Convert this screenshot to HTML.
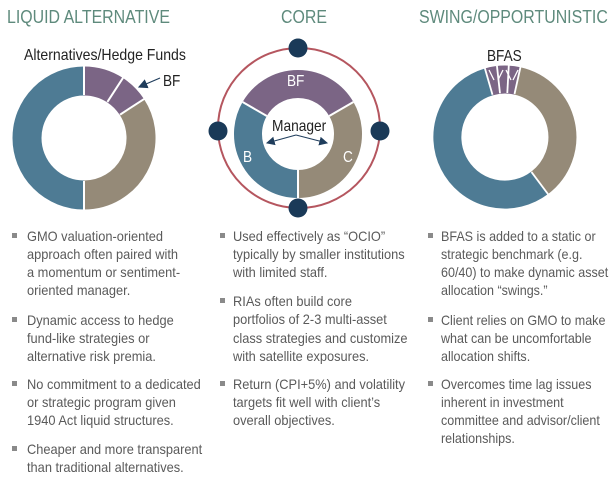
<!DOCTYPE html>
<html><head><meta charset="utf-8"><style>
html,body{margin:0;padding:0;background:#fff}
svg{display:block}
text{font-family:"Liberation Sans",sans-serif}
.t{fill:#5e8a7c;font-size:18.5px}
.b{fill:#5a5a5a;font-size:13.5px}
.bl{fill:#8a8a8a}
</style></head><body>
<svg width="613" height="485" viewBox="0 0 613 485" xmlns="http://www.w3.org/2000/svg">
<defs><marker id="ah" markerWidth="8" markerHeight="8" refX="7" refY="4" orient="auto"><path d="M0,0 L8,4 L0,8 z" fill="#1f3d5c"/></marker></defs>
<text class="t" transform="translate(7,23) scale(0.86,1)">LIQUID ALTERNATIVE</text>
<text class="t" transform="translate(281,23) scale(0.86,1)">CORE</text>
<text class="t" transform="translate(419,23) scale(0.86,1)">SWING/OPPORTUNISTIC</text>

<!-- left donut -->
<g fill="none" stroke-width="29">
<path d="M84,195 A57,57 0 0 1 84,81" stroke="#4e7b94"/>
<path d="M84,81 A57,57 0 0 1 115.1,90.2" stroke="#7b6585"/>
<path d="M115.1,90.2 A57,57 0 0 1 131.8,106.9" stroke="#7b6585"/>
<path d="M131.8,106.9 A57,57 0 0 1 84,195" stroke="#958a78"/>
</g>
<g stroke="#fff" stroke-width="2">
<line x1="84" y1="95" x2="84" y2="65"/><line x1="84" y1="181" x2="84" y2="211"/>
<line x1="107.4" y1="101.9" x2="123.2" y2="77.6"/><line x1="120.1" y1="114.6" x2="144.4" y2="98.8"/>
</g>
<text transform="translate(24,60) scale(0.88,1)" font-size="16" fill="#222">Alternatives/Hedge Funds</text>
<line x1="160" y1="78" x2="139" y2="87" stroke="#1f3d5c" stroke-width="1.2" marker-end="url(#ah)"/>
<text transform="translate(163,86) scale(0.85,1)" font-size="16" fill="#222">BF</text>

<!-- core -->
<ellipse cx="299" cy="128" rx="81" ry="80" fill="none" stroke="#b5565f" stroke-width="2"/>
<g fill="none" stroke-width="28">
<path d="M254.7,109 A50,50 0 0 1 341.3,109" stroke="#7b6585"/>
<path d="M341.3,109 A50,50 0 0 1 298,184" stroke="#958a78"/>
<path d="M298,184 A50,50 0 0 1 254.7,109" stroke="#4e7b94"/>
</g>
<g stroke="#fff" stroke-width="2">
<line x1="329.2" y1="116" x2="353.4" y2="102"/><line x1="266.8" y1="116" x2="242.6" y2="102"/><line x1="298" y1="170" x2="298" y2="198"/>
</g>
<g fill="#1a3a58">
<circle cx="298" cy="48" r="9.5"/><circle cx="298" cy="208" r="9.5"/>
<circle cx="218" cy="131" r="9.5"/><circle cx="380" cy="131" r="9.5"/>
</g>
<text transform="translate(287,86) scale(0.85,1)" font-size="16" fill="#fff">BF</text>
<text transform="translate(243,162) scale(0.85,1)" font-size="16" fill="#fff">B</text>
<text transform="translate(343,162) scale(0.85,1)" font-size="16" fill="#fff">C</text>
<text transform="translate(272,131) scale(0.86,1)" font-size="16" fill="#222">Manager</text>
<line x1="296" y1="135" x2="267" y2="143" stroke="#1f3d5c" stroke-width="1.1" marker-end="url(#ah)"/>
<line x1="296" y1="135" x2="327" y2="143" stroke="#1f3d5c" stroke-width="1.1" marker-end="url(#ah)"/>

<!-- right donut -->
<g fill="none" stroke-width="28">
<path d="M539.6,182.9 A57.5,57.5 0 1 1 488.7,81.9" stroke="#4e7b94"/>
<path d="M517.4,80.9 A57.5,57.5 0 0 1 539.6,182.9" stroke="#958a78"/>
<path d="M488.7,81.9 A57.5,57.5 0 0 1 517.4,80.9" stroke="#7b6585"/>
</g>
<g stroke="#fff" stroke-width="1.8">
<line x1="531.5" y1="172.1" x2="548.3" y2="194.5"/><line x1="492.5" y1="94.8" x2="484.5" y2="67"/>
<line x1="514.5" y1="94" x2="520.6" y2="66.5"/><line x1="500" y1="93.3" x2="496.9" y2="65.5"/><line x1="507.3" y1="93" x2="508.8" y2="65.1"/>
<path d="M489,70 L494,80 M503,70 L498,80 M506,70 L511,80 M518,70 L513,80" stroke-width="1.3"/>
</g>
<text transform="translate(487,61) scale(0.85,1)" font-size="16" fill="#222">BFAS</text>

<g class="bl">
<rect x="12" y="233" width="5" height="5"/><rect x="12" y="317" width="5" height="5"/><rect x="12" y="381" width="5" height="5"/><rect x="12" y="446" width="5" height="5"/>
<rect x="220" y="233" width="5" height="5"/><rect x="220" y="298" width="5" height="5"/><rect x="220" y="381" width="5" height="5"/>
<rect x="428" y="233" width="5" height="5"/><rect x="428" y="317" width="5" height="5"/><rect x="428" y="381" width="5" height="5"/>
</g>
<g class="b">
<text transform="translate(27,241) scale(0.95,1)">GMO valuation-oriented</text>
<text transform="translate(27,259) scale(0.95,1)">approach often paired with</text>
<text transform="translate(27,277) scale(0.95,1)">a momentum or sentiment-</text>
<text transform="translate(27,295) scale(0.95,1)">oriented manager.</text>
<text transform="translate(27,325) scale(0.95,1)">Dynamic access to hedge</text>
<text transform="translate(27,343) scale(0.95,1)">fund-like strategies or</text>
<text transform="translate(27,361) scale(0.95,1)">alternative risk premia.</text>
<text transform="translate(27,389) scale(0.95,1)">No commitment to a dedicated</text>
<text transform="translate(27,407) scale(0.95,1)">or strategic program given</text>
<text transform="translate(27,425) scale(0.95,1)">1940 Act liquid structures.</text>
<text transform="translate(27,454) scale(0.95,1)">Cheaper and more transparent</text>
<text transform="translate(27,472) scale(0.95,1)">than traditional alternatives.</text>

<text transform="translate(233,241) scale(0.95,1)">Used effectively as “OCIO”</text>
<text transform="translate(233,259) scale(0.95,1)">typically by smaller institutions</text>
<text transform="translate(233,277) scale(0.95,1)">with limited staff.</text>
<text transform="translate(233,306) scale(0.95,1)">RIAs often build core</text>
<text transform="translate(233,324) scale(0.95,1)">portfolios of 2-3 multi-asset</text>
<text transform="translate(233,343) scale(0.95,1)">class strategies and customize</text>
<text transform="translate(233,361) scale(0.95,1)">with satellite exposures.</text>
<text transform="translate(233,389) scale(0.95,1)">Return (CPI+5%) and volatility</text>
<text transform="translate(233,407) scale(0.95,1)">targets fit well with client’s</text>
<text transform="translate(233,425) scale(0.95,1)">overall objectives.</text>

<text transform="translate(441,241) scale(0.93,1)">BFAS is added to a static or</text>
<text transform="translate(441,259) scale(0.93,1)">strategic benchmark (e.g.</text>
<text transform="translate(441,277) scale(0.93,1)">60/40) to make dynamic asset</text>
<text transform="translate(441,295) scale(0.93,1)">allocation “swings.”</text>
<text transform="translate(441,325) scale(0.93,1)">Client relies on GMO to make</text>
<text transform="translate(441,343) scale(0.93,1)">what can be uncomfortable</text>
<text transform="translate(441,361) scale(0.93,1)">allocation shifts.</text>
<text transform="translate(441,389) scale(0.93,1)">Overcomes time lag issues</text>
<text transform="translate(441,407) scale(0.93,1)">inherent in investment</text>
<text transform="translate(441,425) scale(0.93,1)">committee and advisor/client</text>
<text transform="translate(441,443) scale(0.93,1)">relationships.</text>
</g>
</svg>
</body></html>
